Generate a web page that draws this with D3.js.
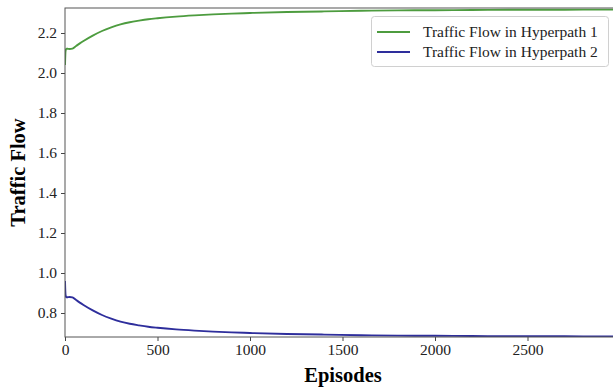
<!DOCTYPE html>
<html><head><meta charset="utf-8">
<script src="https://cdn.jsdelivr.net/npm/d3@7"></script>
<style>body{margin:0;background:#fff;overflow:hidden}svg{display:block}</style>
</head><body>
<svg id="c" width="613" height="387"></svg>
<script>
const episodes = [0,3,8,15,25,40,60,80,100,150,200,250,300,350,400,450,500,600,700,800,900,1000,1200,1400,1600,1800,2000,2200,2400,2600,2800,3000];
const flow1 = [2.04,2.11,2.122,2.121,2.12,2.122,2.135,2.148,2.16,2.187,2.21,2.228,2.243,2.254,2.262,2.269,2.274,2.282,2.288,2.293,2.297,2.300,2.305,2.308,2.311,2.313,2.314,2.315,2.316,2.316,2.317,2.317];
const flow2 = [0.96,0.89,0.878,0.879,0.88,0.878,0.865,0.852,0.84,0.813,0.79,0.772,0.757,0.746,0.738,0.731,0.726,0.718,0.712,0.707,0.703,0.700,0.695,0.692,0.689,0.687,0.686,0.685,0.684,0.684,0.683,0.683];
const xTicks = [0,500,1000,1500,2000,2500];
const yTicks = [0.8,1.0,1.2,1.4,1.6,1.8,2.0,2.2];
const seriesNames = ["Traffic Flow in Hyperpath 1","Traffic Flow in Hyperpath 2"];
const colors = ["#4d9c3f","#2e2e9c"];

const svg = d3.select("#c");
const L=65, R=620, T=8, B=337;
const x = d3.scaleLinear().domain([0,3000]).range([L,R]);
const y = d3.scaleLinear().domain([0.68,2.325]).range([B,T]);
const font = "'Liberation Serif','Times New Roman',serif";

svg.append("defs").append("clipPath").attr("id","cp").append("rect")
  .attr("x",L).attr("y",T).attr("width",R-L).attr("height",B-T);

const line = d3.line().x((d,i)=>x(episodes[i])).y(d=>y(d)).curve(d3.curveMonotoneX);
[flow1,flow2].forEach((s,k)=>{
  svg.append("path").attr("clip-path","url(#cp)").attr("d",line(s))
    .attr("fill","none").attr("stroke",colors[k]).attr("stroke-width",1.9);
});

const xa = svg.append("g").attr("transform",`translate(0,${B})`)
  .call(d3.axisBottom(x).tickValues(xTicks).tickFormat(d3.format("d")).tickSizeOuter(0).tickSize(4).tickPadding(3));
const ya = svg.append("g").attr("transform",`translate(${L},0)`)
  .call(d3.axisLeft(y).tickValues(yTicks).tickFormat(d3.format(".1f")).tickSizeOuter(0).tickSize(4).tickPadding(4));
[xa,ya].forEach(a=>{
  a.select(".domain").remove();
  a.selectAll("line").attr("stroke","#444");
  a.selectAll("text").attr("font-family",font).attr("font-size",15.5).attr("fill","#222");
});
svg.append("rect").attr("x",L).attr("y",T).attr("width",R-L).attr("height",B-T)
  .attr("fill","none").attr("stroke","#555").attr("stroke-width",1);

svg.append("text").attr("x",(L+613)/2+4).attr("y",382).attr("text-anchor","middle")
  .attr("font-family",font).attr("font-weight","bold").attr("font-size",20.5).text("Episodes");
svg.append("text").attr("transform",`translate(25,${(T+B)/2}) rotate(-90)`).attr("text-anchor","middle")
  .attr("font-family",font).attr("font-weight","bold").attr("font-size",20.5).text("Traffic Flow");

const lg = svg.append("g");
lg.append("rect").attr("x",371.5).attr("y",16.5).attr("width",237).attr("height",50).attr("rx",3)
  .attr("fill","#fff").attr("fill-opacity",0.85).attr("stroke","#d0d0d0");
seriesNames.forEach((n,k)=>{
  const yy = 32 + k*20;
  lg.append("line").attr("x1",377).attr("x2",410).attr("y1",yy).attr("y2",yy)
    .attr("stroke",colors[k]).attr("stroke-width",1.9);
  lg.append("text").attr("x",423).attr("y",yy+5).attr("font-family",font).attr("font-size",15.5)
    .attr("fill","#222").text(n);
});
</script>
</body></html>
